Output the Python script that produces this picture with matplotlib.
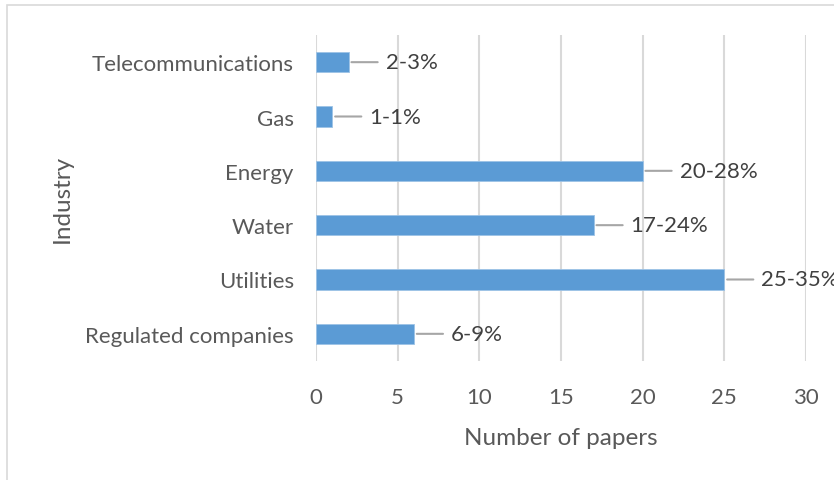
import matplotlib
matplotlib.use("Agg")
import matplotlib.pyplot as plt
from matplotlib.patches import Rectangle

categories = ["Regulated companies", "Utilities", "Water", "Energy", "Gas", "Telecommunications"]
papers = [6, 25, 17, 20, 1, 2]
labels = ["6-9%", "25-35%", "17-24%", "20-28%", "1-1%", "2-3%"]
xticks = [0, 5, 10, 15, 20, 25, 30]

plt.rcParams['font.family'] = ['Lato', 'DejaVu Sans']
W, H = 834, 481
fig = plt.figure(figsize=(W/100, H/100), dpi=100)
fig.patches.append(Rectangle((7/W, -0.5), 2.0, 1.5 - 6/H, transform=fig.transFigure,
                             fill=False, edgecolor='#D9D9D9', linewidth=1.2))
ax = fig.add_axes([316/W, 1 - 362/H, (806-316)/W, (362-36)/H])

ypos = list(range(len(categories)))
ax.barh(ypos, papers, height=0.37, color='#5B9BD5', edgecolor='#9DC3E6', linewidth=0.6, zorder=3)
ax.set_xlim(0, 30)
ax.set_ylim(-0.5, len(categories) - 0.5)
ax.set_xticks(xticks)
ax.set_xticklabels([str(t) for t in xticks])
ax.set_yticks(ypos)
ax.set_yticklabels(categories)
ax.grid(axis='x', color='#D9D9D9', linewidth=1.5, zorder=0)
ax.grid(axis='y', visible=False)
for s in ax.spines.values():
    s.set_visible(False)
ax.tick_params(axis='both', length=0, colors='#595959', labelsize=16)
ax.tick_params(axis='x', pad=19)
ax.tick_params(axis='y', pad=16)
ax.set_xlabel("Number of papers", fontsize=17.5, color='#595959', labelpad=14)
ax.set_ylabel("Industry", fontsize=17.5, color='#595959', labelpad=9)

for y, v, lab in zip(ypos, papers, labels):
    ax.annotate("", xy=(v, y), xytext=(29, 0), textcoords='offset pixels',
                arrowprops=dict(arrowstyle='-', color='#A6A6A6', lw=1.5,
                                shrinkA=0, shrinkB=2))
    ax.annotate(lab, xy=(v, y), xytext=(37, 0), textcoords='offset pixels',
                ha='left', va='center', fontsize=16, color='#404040',
                annotation_clip=False)

fig.savefig("out.png", dpi=100)
